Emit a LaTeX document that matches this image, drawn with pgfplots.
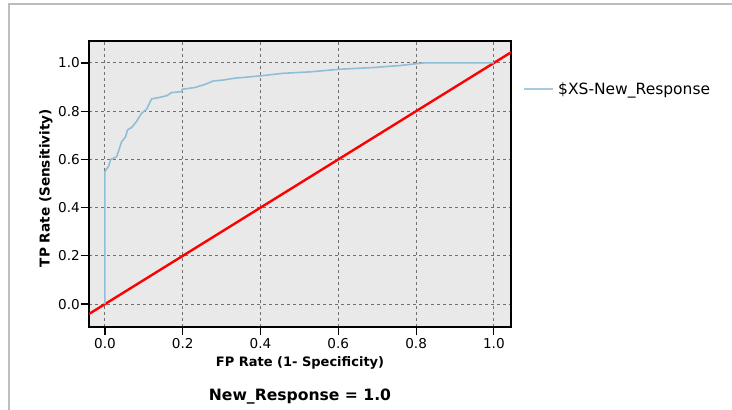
\documentclass[border=0pt]{standalone}
\usepackage{pgfplots}
\pgfplotsset{compat=1.18}
\usepackage{fontspec}
\setmainfont{DejaVu Sans}
\definecolor{roc}{HTML}{90BED7}
\definecolor{plotbg}{HTML}{E9E9E9}
\definecolor{frame}{HTML}{BDBDBD}
\definecolor{gridc}{HTML}{707070}
\begin{document}
\begin{tikzpicture}
\useasboundingbox (0,0) rectangle (732bp,410bp);
\fill[white] (0,0) rectangle (732bp,410bp);
\draw[frame, line width=2bp] (9bp,0) -- (9bp,406bp) -- (732bp,406bp);
\begin{axis}[
  at={(89bp,83bp)}, anchor=south west,
  scale only axis, width=422bp, height=286bp,
  xmin=-0.041, xmax=1.044, ymin=-0.095, ymax=1.091,
  axis background/.style={fill=plotbg},
  axis line style={black, line width=1.2bp},
  xtick={0,0.2,...,1.0}, ytick={0,0.2,...,1.0},
  /pgf/number format/fixed, /pgf/number format/fixed zerofill, /pgf/number format/precision=1,
  /pgf/number format/assume math mode=true,
  ticklabel style={font=\fontsize{13.6bp}{16bp}\selectfont},
  yticklabel style={inner sep=0pt, xshift=-1bp},
  xticklabel style={inner sep=0pt, yshift=-3bp},
  tick align=outside, xtick pos=bottom, ytick pos=left,
  major tick length=8bp,
  tick style={black, line width=1.2bp},
  grid=major,
  major grid style={gridc, dash pattern=on 3bp off 3bp, line width=0.9bp},
  xlabel={\bfseries FP Rate (1- Specificity)},
  ylabel={\bfseries TP Rate (Sensitivity)},
  label style={font=\fontsize{13bp}{15bp}\selectfont},
  xlabel style={at={(axis description cs:0.5,-0.126)}, anchor=center},
  ylabel style={at={(axis description cs:-0.102,0.486)}, anchor=center, font=\fontsize{13.6bp}{15bp}\selectfont},
  title={\bfseries New\_Response = 1.0},
  title style={at={(axis description cs:0.5,-0.231)}, anchor=center, yshift=-9bp, font=\fontsize{15.6bp}{18bp}\selectfont},
  legend style={draw=none, fill=none, at={(1,0.832)}, anchor=west, xshift=12bp, inner sep=0pt,
    font=\fontsize{15.5bp}{17bp}\selectfont, nodes={inner xsep=4bp}},
  legend cell align=left,
  legend image code/.code={\draw[#1, line width=2bp, color=roc!80!white] (0bp,0bp) -- (29bp,0bp);},
]
\addplot[red, line width=2.4bp, forget plot] coordinates {(-0.1,-0.1) (1.1,1.1)};
\addplot[roc, line width=1.6bp] coordinates {
(0,0) (0,0.549) (0.004,0.560) (0.009,0.570) (0.015,0.600) (0.022,0.605) (0.030,0.611)
(0.036,0.640) (0.043,0.674) (0.053,0.694) (0.058,0.722) (0.069,0.733) (0.081,0.757)
(0.094,0.791) (0.107,0.808) (0.120,0.851) (0.137,0.856) (0.159,0.864) (0.171,0.877)
(0.197,0.881) (0.199,0.891) (0.231,0.898) (0.257,0.911) (0.278,0.925) (0.304,0.929)
(0.330,0.936) (0.403,0.947) (0.458,0.957) (0.527,0.963) (0.604,0.974) (0.690,0.981)
(0.758,0.989) (0.801,0.997) (0.820,1.0) (1.0,1.0)
};
\addlegendentry{\$XS-New\_Response}
\end{axis}
\end{tikzpicture}
\end{document}
